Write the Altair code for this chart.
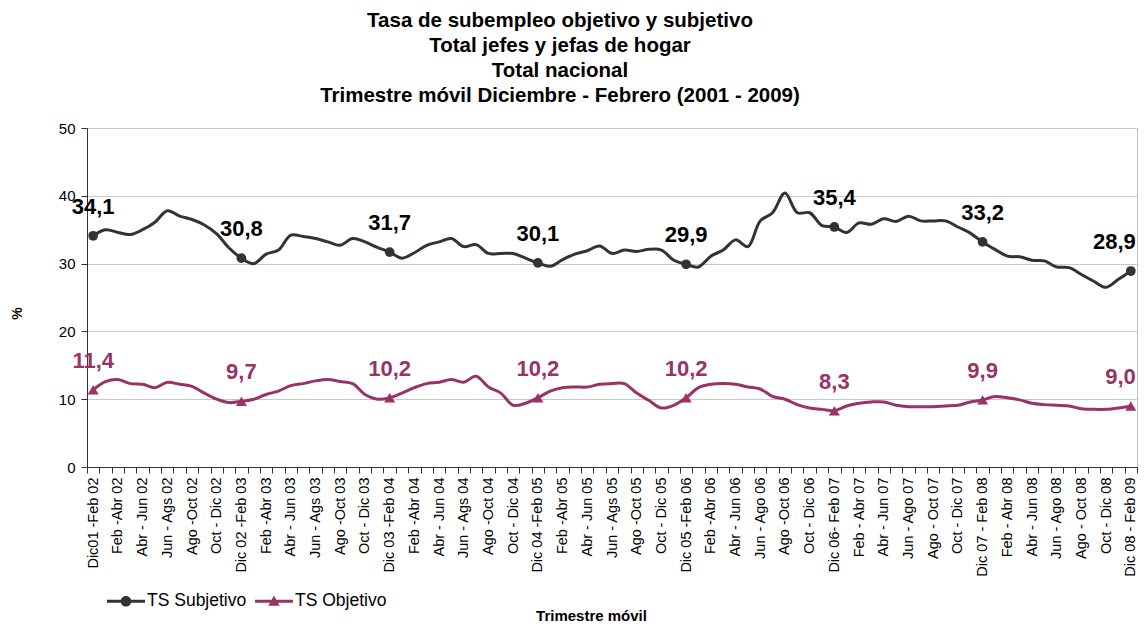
import json
import altair as alt
import pandas as pd

FONT = "Liberation Sans"

# ---- categories (moving quarters) ----
shown_labels = [
    "Dic01 -Feb 02", "Feb -Abr 02", "Abr - Jun 02", "Jun - Ags 02", "Ago -Oct 02", "Oct - Dic 02",
    "Dic 02 -Feb 03", "Feb -Abr 03", "Abr - Jun 03", "Jun - Ags 03", "Ago -Oct 03", "Oct - Dic 03",
    "Dic 03 -Feb 04", "Feb -Abr 04", "Abr - Jun 04", "Jun - Ags 04", "Ago -Oct 04", "Oct - Dic 04",
    "Dic 04 -Feb 05", "Feb -Abr 05", "Abr - Jun 05", "Jun - Ags 05", "Ago -Oct 05", "Oct - Dic 05",
    "Dic 05 -Feb 06", "Feb -Abr 06", "Abr - Jun 06", "Jun - Ago 06", "Ago -Oct 06", "Oct - Dic 06",
    "Dic  06- Feb 07", "Feb - Abr 07", "Abr - Jun 07", "Jun - Ago 07", "Ago - Oct 07", "Oct - Dic 07",
    "Dic 07 - Feb 08", "Feb - Abr 08", "Abr - Jun 08", "Jun - Ago 08", "Ago - Oct 08", "Oct - Dic  08",
    "Dic 08 - Feb 09",
]
hidden_labels = []
for yy in ["02", "03", "04", "05", "06", "07", "08"]:
    nxt = "%02d" % (int(yy) + 1)
    hidden_labels += [
        "Ene - Mar " + yy, "Mar - May " + yy, "May - Jul " + yy,
        "Jul - Sep " + yy, "Sep - Nov " + yy, "Nov " + yy + " - Ene " + nxt,
    ]

categories = []
for i, lab in enumerate(shown_labels):
    categories.append(lab)
    if i < len(hidden_labels):
        categories.append(hidden_labels[i])

# ---- series values (%) ----
ts_subjetivo = [
    34.1, 35.0, 34.6, 34.3, 35.0, 36.1, 37.8, 37.0, 36.5, 35.7, 34.4, 32.3,
    30.8, 30.0, 31.4, 32.0, 34.2, 34.0, 33.7, 33.2, 32.7, 33.7, 33.2, 32.4,
    31.7, 30.8, 31.6, 32.7, 33.2, 33.7, 32.5, 32.8, 31.5, 31.5, 31.5, 30.8,
    30.1, 29.6, 30.6, 31.4, 31.9, 32.6, 31.5, 32.0, 31.8, 32.1, 32.0, 30.5,
    29.9, 29.5, 31.1, 32.0, 33.5, 32.5, 36.3, 37.5, 40.4, 37.5, 37.5, 35.6,
    35.4, 34.6, 36.0, 35.8, 36.6, 36.2, 37.0, 36.3, 36.3, 36.3, 35.4, 34.5,
    33.2, 32.1, 31.1, 31.0, 30.5, 30.4, 29.5, 29.4, 28.4, 27.4, 26.5, 27.7,
    28.9,
]
ts_objetivo = [
    11.4, 12.6, 12.9, 12.3, 12.2, 11.7, 12.5, 12.2, 11.9, 10.9, 10.0, 9.5,
    9.7, 10.0, 10.7, 11.2, 12.0, 12.3, 12.7, 12.9, 12.6, 12.3, 10.7, 10.0,
    10.2, 10.9, 11.7, 12.3, 12.5, 12.9, 12.5, 13.4, 11.8, 10.9, 9.1, 9.4,
    10.2, 11.2, 11.7, 11.8, 11.8, 12.2, 12.3, 12.3, 10.9, 9.8, 8.7, 9.1,
    10.2, 11.7, 12.2, 12.3, 12.2, 11.8, 11.5, 10.4, 10.0, 9.2, 8.7, 8.5,
    8.3, 9.0, 9.4, 9.6, 9.6, 9.1, 8.9, 8.9, 8.9, 9.0, 9.1, 9.6,
    9.9, 10.4, 10.2, 9.9, 9.4, 9.2, 9.1, 9.0, 8.6, 8.5, 8.5, 8.7,
    9.0,
]
labeled_points = [0, 12, 24, 36, 48, 60, 72, 84]

series_names = ["TS Subjetivo", "TS Objetivo"]
line_colors = ["#333333", "#993366"]
text_colors = ["#000000", "#993366"]
marker_shapes = ["circle", "triangle-up"]
marker_sizes = [95, 120]

rows = []
for name, vals in zip(series_names, [ts_subjetivo, ts_objetivo]):
    for i, v in enumerate(vals):
        rows.append({
            "trimestre": categories[i],
            "serie": name,
            "valor": v,
            "marca": i in labeled_points,
            "ultimo": i == len(vals) - 1,
            "texto": ("%.1f" % v).replace(".", ","),
        })
df = pd.DataFrame(rows)

label_expr = "indexof(%s, datum.label) >= 0 ? datum.label : ''" % json.dumps(shown_labels)

x_enc = alt.X(
    "trimestre:N", sort=categories, title="Trimestre móvil",
    scale=alt.Scale(type="band", paddingInner=0, paddingOuter=0),
    axis=alt.Axis(
        labelAngle=-90, labelAlign="right", labelBaseline="middle", labelExpr=label_expr,
        labelOverlap=False, labelFontSize=14.5, labelColor="#000000", labelPadding=4,
        tickBand="extent", tickSize=6, tickColor="#333333", domainColor="#333333",
        grid=False, titleFontSize=15, titleFontWeight="bold", titleX=504, titleY=148,
        titleBaseline="middle", titleAlign="center",
    ),
)
y_enc = alt.Y(
    "valor:Q", title="%",
    scale=alt.Scale(domain=[0, 50]),
    axis=alt.Axis(
        values=[0, 10, 20, 30, 40, 50], labelFontSize=15, labelColor="#000000", labelPadding=6,
        tickSize=6, tickColor="#333333", domainColor="#333333", gridColor="#c8c8c8",
        titleFontSize=14, titleFontWeight="bold", titleX=-70, titleY=185, titleAngle=-90,
        titleBaseline="middle", titleAlign="center",
    ),
)

base = alt.Chart(df).encode(x=x_enc, y=y_enc)
is_mark = alt.datum.marca
is_last = alt.datum.ultimo

layers = []
for k, name in enumerate(series_names):
    sel = base.transform_filter(alt.datum.serie == name)
    layers.append(sel.mark_line(interpolate="catmull-rom", strokeWidth=3, color=line_colors[k]))
for k, name in enumerate(series_names):
    sel = base.transform_filter((alt.datum.serie == name) & is_mark)
    layers.append(sel.mark_point(shape=marker_shapes[k], filled=True, size=marker_sizes[k],
                                 opacity=1, color=line_colors[k]))
    # labels: centred above the marker; the last one is right-aligned so it stays inside
    layers.append(sel.transform_filter(~is_last).mark_text(
        font=FONT, fontSize=22, fontWeight="bold", dy=-29, color=text_colors[k]
    ).encode(text="texto:N"))
    layers.append(sel.transform_filter(is_last).mark_text(
        font=FONT, fontSize=22, fontWeight="bold", dy=-29, dx=5, align="right", color=text_colors[k]
    ).encode(text="texto:N"))

path_circle = "M-1,-0.08 H1 V0.08 H-1 Z M0.28,0 A0.28,0.28 0 1 1 -0.28,0 A0.28,0.28 0 1 1 0.28,0 Z"
path_tri = "M-1,-0.08 H1 V0.08 H-1 Z M0,-0.3 L0.3,0.24 L-0.3,0.24 Z"

legend_params = dict(
    title=None, orient="none", legendX=20, legendY=454, direction="horizontal",
    symbolSize=1444, symbolStrokeWidth=0, symbolOpacity=1, labelFontSize=17.5, labelFont=FONT,
    labelColor="#000000", labelOffset=2, columnPadding=8, padding=0,
)
# invisible points that only carry the legend (line + marker symbols)
legend_layer = base.transform_filter(is_mark).mark_point(filled=True, opacity=0).encode(
    color=alt.Color("serie:N", scale=alt.Scale(domain=series_names, range=line_colors),
                    sort=series_names, legend=alt.Legend(**legend_params)),
    shape=alt.Shape("serie:N", scale=alt.Scale(domain=series_names, range=[path_circle, path_tri]),
                    sort=series_names, legend=alt.Legend(**legend_params)),
)
layers.append(legend_layer)

chart = alt.layer(*layers).properties(
    width=1050, height=339,
    autosize=alt.AutoSizeParams(type="none"),
    padding={"left": 79, "top": 120, "right": 2, "bottom": 158},
    title=alt.TitleParams(
        text=["Tasa de subempleo objetivo y subjetivo", "Total jefes y jefas de hogar",
              "Total nacional", "Trimestre móvil  Diciembre - Febrero (2001 - 2009)"],
        font=FONT, fontSize=20.5, fontWeight="bold", color="#000000",
        anchor="middle", dx=-52, lineHeight=25, offset=15,
    ),
).configure(font=FONT).configure_view(stroke="#c0c0c0", strokeWidth=1)

chart.save("out.html", embed_options={"renderer": "svg", "actions": False})
